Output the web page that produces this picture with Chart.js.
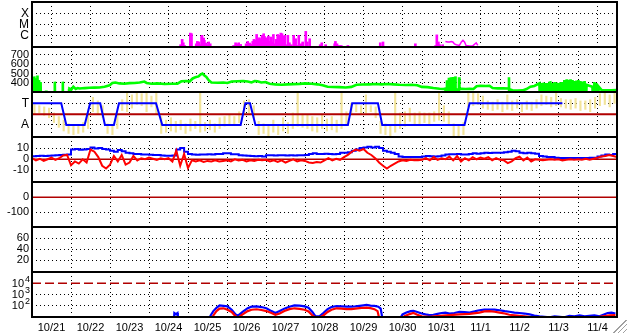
<!DOCTYPE html>
<html>
<head>
<meta charset="utf-8">
<script src="https://cdn.jsdelivr.net/npm/chart.js@4.4.1/dist/chart.umd.min.js"></script>
<style>
  body { margin: 0; background: #fff; }
  #wrap { position: relative; width: 628px; height: 334px; overflow: hidden; }
  #wrap canvas { position: absolute; left: 0; }
  #grip { position: absolute; left: 613px; top: 320px; width: 14px; height: 13px;
    background: linear-gradient(135deg, transparent 0 46%, #a0a0a0 46% 52%, transparent 52% 64%, #a0a0a0 64% 70%, transparent 70% 82%, #a0a0a0 82% 88%, transparent 88%); }
</style>
</head>
<body>
<div id="wrap">
  <canvas id="p1" width="628" height="47" style="top:1px"></canvas>
  <canvas id="p2" width="628" height="47" style="top:46px"></canvas>
  <canvas id="p3" width="628" height="47" style="top:91px"></canvas>
  <canvas id="p4" width="628" height="47" style="top:136px"></canvas>
  <canvas id="p5" width="628" height="47" style="top:181px"></canvas>
  <canvas id="p6" width="628" height="47" style="top:226px"></canvas>
  <canvas id="p7" width="628" height="63" style="top:271px"></canvas>
  <div id="grip"></div>
</div>
<script>
// time axis: days since 10/21 00:00
const dayLabels = ['10/21', '10/22', '10/23', '10/24', '10/25', '10/26', '10/27', '10/28',
    '10/29', '10/30', '10/31', '11/1', '11/2', '11/3', '11/4'];
const dayCount = 15;

// X-ray flux (W/m2), flare class ticks
const xrayTicks = [-6, -5, -4];
const xrayTickLabels = ['C', 'M', 'X'];
const xrayDays = [3.81, 3.85, 3.88, 3.91, 4.06, 4.09, 4.21, 4.24, 4.28, 4.31, 4.35, 4.36, 4.40, 4.42, 4.47, 4.50, 4.53, 4.57,
    5.17, 5.22, 5.26, 5.30, 5.35, 5.49, 5.53, 5.58, 5.62, 5.66, 5.69, 5.72, 5.76, 5.80, 5.83,
    5.87, 5.90, 5.94, 5.96, 6.00, 6.03, 6.06, 6.09, 6.12, 6.16, 6.19, 6.23, 6.26, 6.30, 6.35, 6.38, 6.41, 6.45, 6.48, 6.52,
    6.56, 6.60, 6.65, 6.71, 6.76, 6.81, 6.84, 6.90, 6.94, 6.99, 7.02, 7.06, 7.12, 7.39, 7.43, 7.53,
    7.76, 7.78, 7.82, 7.88, 7.93, 8.10, 8.93, 9.00, 9.83, 10.35, 10.38, 10.42, 10.45, 10.53];
const xrayFlux = [1.4e-7, 4.3e-7, 2.1e-7, 1.2e-7, 1.6e-6, 1.4e-6, 1.7e-7, 2.8e-7, 2.5e-7, 1.4e-7, 8.1e-7, 1.0e-6, 5.7e-7, 3.5e-7, 2.0e-7, 1.4e-7, 2.5e-7, 1.7e-7,
    1.2e-7, 2.1e-7, 1.7e-7, 2.1e-7, 1.5e-7, 1.7e-7, 2.8e-7, 2.0e-7, 1.5e-7, 2.8e-7, 4.3e-7, 3.5e-7, 1.2e-6, 4.3e-7, 6.0e-7,
    4.9e-7, 1.0e-6, 1.4e-6, 8.1e-7, 6.0e-7, 4.3e-7, 8.7e-7, 2.8e-7, 7.0e-7, 2.5e-7, 1.2e-6, 1.7e-7, 4.3e-7, 1.2e-6, 1.0e-6, 1.6e-6, 1.4e-6, 8.1e-7, 1.0e-6, 1.4e-7,
    1.0e-6, 2.1e-7, 1.4e-7, 1.0e-6, 4.9e-7, 1.2e-7, 1.0e-6, 1.7e-7, 2.5e-7, 1.0e-7, 2.3e-6, 2.5e-7, 4.9e-7, 1.4e-7, 2.1e-7, 1.4e-7,
    1.7e-7, 2.8e-7, 1.7e-7, 1.2e-7, 1.2e-7, 1.2e-7, 2.1e-7, 2.5e-7, 1.7e-7, 1.2e-7, 1.1e-6, 2.5e-7, 1.4e-7, 1.4e-7];
const xrayLineDays = [10.60, 10.66, 10.71, 10.75, 10.79, 10.83, 10.88, 10.96, 11.01, 11.05, 11.09, 11.13, 11.22, 11.30, 11.39, 11.43];
const xrayLineFlux = [2.8e-7, 2.5e-7, 2.5e-7, 2.8e-7, 2.5e-7, 1.7e-7, 1.4e-7, 1.2e-7, 2.5e-7, 3.5e-7, 2.5e-7, 1.2e-7, 1.1e-7, 1.1e-7, 2.1e-7, 1.2e-7];

// solar wind speed (km/s), 0 = data dropout
const windTicks = [400, 500, 600, 700];
const windDays = [0.01, 0.04, 0.06, 0.09, 0.10, 0.13, 0.14, 0.17, 0.18, 0.21, 0.22, 0.24, 0.35, 0.36, 0.37, 0.58, 0.585, 0.60, 0.78, 0.79, 0.80, 0.94, 0.95,
    0.96, 1.01, 1.06, 1.12, 1.17, 1.22, 1.35, 1.47, 1.60, 1.73, 1.86, 1.99, 2.06, 2.14, 2.24, 2.37, 2.50, 2.63, 2.76, 2.88, 2.94,
    3.06, 3.22, 3.40, 3.58, 3.73, 3.83, 3.96, 4.04, 4.12, 4.19, 4.27, 4.32, 4.37, 4.42, 4.47, 4.53, 4.60, 4.76, 4.91,
    5.01, 5.12, 5.27, 5.42, 5.53, 5.63, 5.71, 5.78, 5.88, 5.99, 6.09, 6.24, 6.40, 6.55, 6.71, 6.86, 7.01, 7.17, 7.32, 7.45, 7.58,
    7.71, 7.88, 8.04, 8.19, 8.32, 8.47, 8.65, 8.81, 8.96, 9.12, 9.27, 9.42, 9.58, 9.73, 9.88, 9.99, 10.14, 10.29, 10.45, 10.55, 10.60,
    10.63, 10.64, 10.65, 10.68, 10.69, 10.71, 10.73, 10.74, 10.76, 10.78, 10.79, 10.82, 10.83, 10.85, 10.86, 10.88, 10.94, 10.95, 10.96,
    11.01, 11.12, 11.22, 11.32, 11.40, 11.50, 11.63, 11.73, 11.81, 11.94, 12.09, 12.22, 12.23, 12.24, 12.26, 12.32, 12.45, 12.58, 12.68, 12.78, 12.88,
    13.01, 13.04, 13.06, 13.09, 13.12, 13.14, 13.17, 13.19, 13.22, 13.24, 13.27, 13.29, 13.32, 13.35, 13.37, 13.40, 13.42, 13.45, 13.47, 13.50, 13.53, 13.55,
    13.60, 13.63, 13.65, 13.68, 13.71, 13.73, 13.76, 13.78, 13.81, 13.83, 13.86, 13.88, 13.91, 13.94, 13.96, 13.99, 14.01, 14.04, 14.06, 14.09, 14.12, 14.14,
    14.17, 14.19, 14.22, 14.29, 14.37, 14.40, 14.42, 14.45, 14.47, 14.50, 14.53, 14.60, 14.73, 14.86, 14.99];
const windSpeed = [440, 0, 470, 0, 450, 0, 480, 0, 430, 0, 410, 0, 0, 320, 0, 0, 414, 0, 0, 414, 0, 0, 325,
    340, 330, 360, 335, 345, 340, 345, 348, 350, 352, 360, 375, 400, 405, 395, 392, 398, 400, 405, 415, 400,
    392, 395, 388, 392, 393, 418, 420, 415, 448, 460, 470, 490, 500, 480, 465, 430, 405, 402, 405,
    400, 415, 418, 420, 415, 405, 420, 418, 405, 410, 392, 385, 380, 385, 387, 390, 395, 392, 385, 375, 360,
    357, 355, 352, 358, 380, 383, 385, 388, 385, 388, 385, 380, 378, 380, 375, 358, 355, 345, 338, 335, 340,
    0, 430, 340, 0, 455, 345, 0, 460, 345, 0, 465, 350, 0, 470, 340, 335, 0, 460, 335,
    338, 335, 338, 335, 365, 370, 368, 370, 345, 342, 343, 340, 460, 0, 330, 322, 318, 320, 335, 360, 368,
    395, 0, 400, 0, 405, 0, 400, 0, 398, 0, 402, 405, 0, 400, 0, 410, 0, 405, 0, 400, 0, 395,
    398, 0, 430, 0, 440, 0, 435, 0, 440, 0, 430, 0, 420, 0, 425, 0, 430, 0, 420, 0, 415, 0,
    420, 0, 380, 370, 360, 0, 410, 0, 400, 0, 360, 325, 322, 320, 325];

// IMF phi angle (deg), 3-hour spread, and sector polarity
const phiTicks = [90, 270];
const phiTickLabels = ['A', 'T'];
const phiStep = 0.125;
const phiLo = [180, 190, 170, 150, 110, 70, 40, 20, 10, 20, 30, 60, 200, 180, 150, 20, 10, 60, 210, 200,
    230, 260, 250, 200, 240, 180, 20, 30, 40, 30, 50, 20, 40, 60, 30, 40, 50, 30, 60, 80,
    100, 90, 110, 180, 190, 150, 10, 20, -5, 30, 10, 40, 20, 60, 80, 70, 60, 40, 30, 60,
    40, 50, 30, 60, 100, 190, 200, 180, 190, 200, 150, 20, 10, 0, 30, 60, 80, 120, 90, 100,
    110, 100, 120, 130, 120, 90, 0, -5, 10, 240, 250, 260, 230, 220, 210, 220, 200, 220, 210, 230,
    200, 220, 210, 230, 250, 260, 240, 250, 240, 230, 220, 230, 210, 220, 200, 230, 250, 260, 240, 270];
const phiHi = [260, 250, 240, 230, 190, 160, 130, 100, 80, 90, 110, 170, 320, 290, 250, 100, 90, 180, 300, 360,
    340, 364, 350, 364, 330, 364, 160, 130, 150, 120, 130, 100, 140, 120, 364, 110, 130, 100, 150, 160,
    170, 160, 200, 290, 300, 250, 120, 100, 80, 130, 90, 150, 110, 190, 364, 180, 170, 160, 150, 170,
    140, 160, 130, 364, 200, 270, 260, 250, 340, 250, 240, 120, 100, 90, 364, 190, 200, 230, 190, 200,
    190, 190, 200, 364, 250, 200, 100, 80, 110, 364, 364, 350, 330, 290, 280, 300, 280, 340, 290, 300,
    270, 290, 280, 300, 340, 330, 320, 364, 310, 300, 300, 310, 290, 290, 300, 320, 350, 364, 340, 364];
const sectorDays = [0, 0.75, 0.88, 1.35, 1.49, 1.75, 1.87, 2.10, 2.23, 3.18, 3.34, 5.35, 5.47, 5.59, 5.73,
    8.10, 8.21, 8.87, 8.98, 11.09, 11.22, 13.60];
const sectorSide = ['T', 'T', 'A', 'A', 'T', 'T', 'A', 'A', 'T', 'T', 'A', 'A', 'T', 'T', 'A',
    'A', 'T', 'T', 'A', 'A', 'T', 'T'];
const sectorLevel = { T: 270, A: 90 };

// IMF Bt and Bz (nT), every 0.1 day
const imfTicks = [-10, 0, 10];
const imfStep = 0.1;
const btValues = [2.8, 3, 3.2, 3, 3.3, 3.5, 3.8, 4, 4.3, 4.5,
    9, 9.5, 8.8, 9, 9.5, 11, 10, 10.5, 9.5, 9,
    8, 7, 8.5, 7.5, 6, 5.5, 5, 4.8, 4.5, 4.5,
    4.3, 4, 4, 3.5, 3.3, 3.2, 3.5, 9, 10.5, 7,
    5, 4.5, 4.3, 4.5, 4.5, 4.6, 4.5, 4.8, 5, 5.5,
    5.5, 4.6, 4.6, 3.7, 3.5, 3.3, 3, 2.8, 3, 2.5,
    3.7, 3.7, 3.5, 3.7, 3.8, 3.6, 3.7, 3.6, 3.8, 3.7,
    4, 5, 5.5, 5, 4.8, 5.2, 5, 4.6, 5, 6,
    6, 6.5, 8, 9, 10.5, 11, 11.5, 11, 11.5, 10.5,
    8, 7, 6, 5, 2.5, 2, 2, 2.2, 2, 2,
    2.5, 3, 2.8, 2.5, 2.8, 3.5, 4.5, 4.6, 4.6, 4.8,
    4.5, 4.5, 5, 5.5, 5.2, 5.5, 6, 5.8, 6, 6,
    6, 6.5, 7, 8, 7.5, 6, 5.5, 6, 5.5, 5.2,
    3, 2.5, 2, 2, 1.5, 1.2, 1.2, 1.2, 1.3, 1.2,
    1.2, 1.3, 1.2, 1.5, 1.5, 2.5, 3.5, 4.5, 4, 4.8, 4];
const bzValues = [1, -1, 0.5, -1.5, 0, 1.5, -0.5, 1, 3.5, 4,
    -5.5, -2, -4, 0, -3, 9, 7, 2, -6, -8.5,
    -5, 3, -2, 4, -5, -3, 3, -1, 1, 0,
    1.5, 0.5, -0.5, 1, 0, 1, -2, 8, -6, 5,
    -8, -1, -2, -1, -2.5, -1.5, -2, -1, -2, -1.5,
    -1, -2, 0, -1, -0.5, -2, -1, -1.5, -0.5, -1,
    -0.5, -2, -1, -2.5, -1, -3, -1.5, 0, -2, -1,
    -1.5, -3, -3.5, -2.5, -3, -1, 1, -1, 0.5, -0.5,
    2, 4, 7, 9, 8, 9.5, 6, 4, 1, -3,
    -6, -8.5, -6, -4, -2, -1, -1.5, -0.5, -1, -1,
    -0.5, 1, -1, 2, -0.5, 1, 0, 2.5, -1, 3,
    -2, 1, -1, 2, 0, 1.5, 0.5, 2, -1, 1,
    -0.5, -1, -3.5, -2, 1, 2.5, -1, 1.5, -2, 0,
    -0.5, -1, -0.5, 0, -0.5, 0, -1, -0.5, 0, -0.5,
    0, -0.5, 0.5, -0.5, 0.5, 1.5, 2.5, 3, 4, 3, 2];

// empty panels
const dstTicks = [-100, 0];
const p6Ticks = [20, 40, 60];

// particle flux, log ticks (exponents)
const fluxTicks = [2, 3, 4];
const fluxBlueDays = [3.64, 3.65, 3.69, 3.73, 3.74, 4.53, 4.58, 4.65, 4.73, 4.81, 4.91, 5.01, 5.12, 5.22, 5.29,
    5.40, 5.53, 5.63, 5.76, 5.88, 6.01, 6.14, 6.24, 6.35, 6.47, 6.60, 6.73, 6.86, 6.99, 7.09, 7.19, 7.27, 7.37, 7.47, 7.58,
    7.68, 7.81, 7.94, 8.06, 8.19, 8.29, 8.40, 8.50, 8.58, 8.68, 8.78, 8.88, 8.94, 8.99,
    9.42, 9.50, 9.60, 9.71, 9.78, 9.88, 9.99, 10.09, 10.19, 10.29, 10.40, 10.50, 10.60, 10.71, 10.83, 10.96, 11.09, 11.22, 11.35, 11.47,
    11.60, 11.73, 11.86, 11.99, 12.12, 12.24, 12.37, 12.50, 12.63, 12.76, 12.88, 13.01, 13.14, 13.27, 13.40, 13.53, 13.65, 13.78, 13.91, 14.04,
    14.17, 14.29, 14.42, 14.55, 14.65, 14.76, 14.86, 14.96];
const fluxBlue = [5, 20, 16, 20, 5, 5, 12, 30, 60, 100, 90, 80, 40, 15, 12,
    25, 55, 75, 80, 70, 55, 30, 20, 30, 50, 75, 100, 95, 80, 60, 25, 10, 10, 20, 45,
    70, 85, 80, 75, 75, 80, 90, 100, 110, 95, 90, 75, 50, 5,
    5, 15, 22, 30, 32, 25, 18, 15, 13, 14, 17, 20, 22, 18, 20, 25, 24, 22, 28, 36,
    40, 42, 40, 36, 30, 26, 22, 20, 18, 15, 12, 10, 9, 8, 10, 9, 8, 11, 10, 12,
    10, 11, 12, 10, 14, 20, 22, 18];
const fluxRedDays = [4.60, 4.65, 4.73, 4.81, 4.91, 5.01, 5.12, 5.22, 5.29,
    5.40, 5.53, 5.63, 5.76, 5.88, 6.01, 6.14, 6.24, 6.35, 6.47, 6.60, 6.73, 6.86, 6.99, 7.09, 7.19, 7.27, 7.37, 7.47, 7.58,
    7.68, 7.81, 7.94, 8.06, 8.19, 8.29, 8.40, 8.50, 8.58, 8.68, 8.78, 8.86, 8.91,
    9.42, 9.55, 9.68, 9.78, 9.88, 9.99, 10.19, 10.45, 10.71, 10.96, 11.22, 11.47,
    11.60, 11.73, 11.86, 11.99, 12.12, 12.24, 12.50, 12.76, 13.01, 13.53, 14.04, 14.55, 14.81, 14.96];
const fluxRed = [5, 12, 30, 50, 54, 40, 25, 10, 8,
    15, 30, 40, 44, 38, 30, 20, 14, 18, 30, 45, 54, 48, 40, 28, 12, 8, 8, 12, 25,
    40, 54, 50, 45, 45, 50, 55, 60, 62, 55, 45, 30, 5,
    5, 10, 16, 20, 14, 10, 9, 11, 13, 15, 17, 22,
    28, 30, 26, 22, 18, 14, 11, 9, 8, 7, 8, 9, 12, 13];

const FONT = '"Liberation Sans", Arial, sans-serif';
Chart.defaults.font.family = FONT;
Chart.defaults.font.size = 11;
Chart.defaults.color = '#000';

const pts = (xs, ys, f) => xs.map((x, i) => ({ x: x, y: f ? f(ys[i]) : ys[i] }));
const hline = (v, color, width, dash) => ({
    data: [{ x: 0, y: v }, { x: dayCount, y: v }],
    borderColor: color, borderWidth: width, borderDash: dash || []
});

// solid black frame round each panel
const framePlugin = {
    id: 'frame',
    afterDatasetsDraw(chart) {
        const { ctx, chartArea: a } = chart;
        ctx.save();
        ctx.strokeStyle = '#000';
        ctx.lineWidth = 2;
        ctx.strokeRect(a.left, a.top, a.right - a.left, a.bottom - a.top);
        ctx.restore();
    }
};

// 10^n labels with raised exponent
const expLabelPlugin = {
    id: 'expLabels',
    afterDraw(chart) {
        const s = chart.scales.y;
        const ctx = chart.ctx;
        ctx.save();
        ctx.fillStyle = '#000';
        ctx.textAlign = 'right';
        ctx.textBaseline = 'middle';
        fluxTicks.forEach(e => {
            const y = s.getPixelForValue(e);
            ctx.font = '9px ' + FONT;
            const w = ctx.measureText(String(e)).width;
            ctx.fillText(String(e), 30, y - 4);
            ctx.font = '11px ' + FONT;
            ctx.fillText('10', 29 - w, y + 1);
        });
        ctx.restore();
    }
};

// the panels must fill their canvas exactly: drop label overhang padding
const noPad = s => {
    s.paddingTop = 0; s.paddingBottom = 0; s.paddingLeft = 0; s.paddingRight = 0;
};

function makePanel(id, o) {
    const last = !!o.dates;
    return new Chart(document.getElementById(id), {
        type: 'line',
        data: { datasets: o.datasets },
        options: {
            responsive: false,
            animation: false,
            events: [],
            layout: { padding: { left: 0, right: 11, top: 1, bottom: last ? 0 : 1 } },
            plugins: { legend: { display: false }, tooltip: { enabled: false } },
            elements: { point: { radius: 0 }, line: { tension: 0 } },
            datasets: { line: { clip: 0 }, bar: { clip: 0 } },
            scales: {
                x: {
                    type: 'linear', min: 0, max: dayCount, offset: false,
                    afterBuildTicks: s => { s.ticks = dayLabels.map((_, i) => ({ value: i })).concat([{ value: dayCount }]); },
                    afterFit: s => { s.height = last ? 17 : 0; noPad(s); },
                    grid: { color: '#000', lineWidth: 1, drawTicks: false },
                    border: { display: false, dash: [1, 3] },
                    ticks: {
                        display: last, autoSkip: false, maxRotation: 0, padding: 4, labelOffset: 19.5,
                        font: { size: 11 },
                        callback: v => dayLabels[v] || ''
                    }
                },
                y: {
                    type: 'linear', min: o.min, max: o.max,
                    afterBuildTicks: s => { s.ticks = o.ticks.map(v => ({ value: v })); },
                    afterFit: s => { s.width = 32; noPad(s); },
                    grid: {
                        color: c => (o.noGrid || []).includes(c.tick && c.tick.value) ? 'rgba(0,0,0,0)' : '#000',
                        lineWidth: 1, drawTicks: false
                    },
                    border: { display: false, dash: [1, 3] },
                    ticks: {
                        display: !o.expLabels, autoSkip: false, padding: 3,
                        font: { size: o.labelSize || 11 },
                        callback: v => o.labels ? o.labels[o.ticks.indexOf(v)] : String(v)
                    }
                }
            }
        },
        plugins: o.expLabels ? [framePlugin, expLabelPlugin] : [framePlugin]
    });
}

// 1: X-ray flux
makePanel('p1', {
    min: -7.06, max: -2.97, ticks: xrayTicks, labels: xrayTickLabels, labelSize: 12,
    datasets: [
        { type: 'bar', data: xrayDays.map((d, i) => ({ x: d, y: [-7.5, Math.log10(xrayFlux[i])] })),
          backgroundColor: '#ff00ff', barThickness: 2 },
        { data: pts(xrayLineDays, xrayLineFlux, Math.log10), borderColor: '#ff00ff', borderWidth: 1.5 }
    ]
});

// 2: solar wind speed
makePanel('p2', {
    min: 303, max: 785, ticks: windTicks,
    datasets: [
        { data: pts(windDays, windSpeed), borderColor: '#00ff00', borderWidth: 2.6 }
    ]
});

// 3: IMF phi and sector polarity
makePanel('p3', {
    min: -10, max: 364, ticks: phiTicks, labels: phiTickLabels, labelSize: 12,
    datasets: [
        { data: pts(sectorDays, sectorSide, s => sectorLevel[s]), borderColor: '#0000ff', borderWidth: 2 },
        hline(180, '#b00000', 2),
        { type: 'bar', data: phiLo.map((lo, i) => ({ x: (i + 0.5) * phiStep, y: [lo, phiHi[i]] })),
          backgroundColor: '#f2e49a', barThickness: 1.5 }
    ]
});

// 4: IMF Bt / Bz
const imfDays = btValues.map((_, i) => +(i * imfStep).toFixed(2));
makePanel('p4', {
    min: -21, max: 20.6, ticks: imfTicks, noGrid: [0],
    datasets: [
        { data: pts(imfDays, bzValues), borderColor: '#ff0000', borderWidth: 2 },
        { data: pts(imfDays, btValues), borderColor: '#0000ff', borderWidth: 2, stepped: true },
        hline(0, '#b00000', 1.5)
    ]
});

// 5: empty, zero reference
makePanel('p5', {
    min: -198, max: 102, ticks: dstTicks, noGrid: [0],
    datasets: [hline(0, '#b00000', 1.5)]
});

// 6: empty
makePanel('p6', { min: -1.3, max: 80.5, ticks: p6Ticks, datasets: [] });

// 7: particle flux (log), with date axis
makePanel('p7', {
    min: 0.94, max: 5.03, ticks: fluxTicks, noGrid: [4], expLabels: true, dates: true,
    datasets: [
        { data: pts(fluxRedDays, fluxRed, Math.log10), borderColor: '#ff0000', borderWidth: 2.2 },
        { data: pts(fluxBlueDays, fluxBlue, Math.log10), borderColor: '#0000ff', borderWidth: 2.2 },
        hline(4, '#b00000', 1.5, [9, 4])
    ]
});
</script>
</body>
</html>
